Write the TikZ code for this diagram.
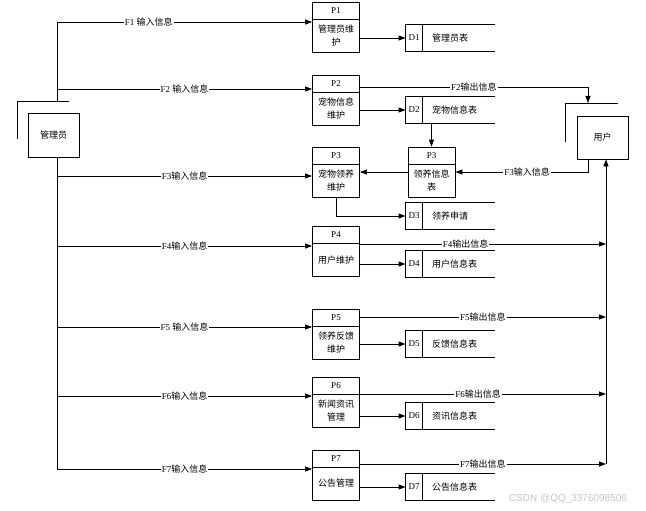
\documentclass[tikz,border=0pt]{standalone}
\usepackage{fontspec}
\setmainfont{Liberation Serif}
\newfontfamily\cjk{Noto Sans CJK SC}
\newfontfamily\wmfont{Liberation Sans}
\usetikzlibrary{arrows.meta, positioning}

\tikzset{
  proc/.style={draw, minimum width=47pt, minimum height=50pt, inner sep=0pt},
  store/.style={minimum width=89pt, minimum height=26pt, inner sep=0pt},
  ent/.style={draw, minimum width=51pt, minimum height=44pt, font=\cjk\fontsize{9}{10}\selectfont},
  pid/.style={inner sep=0pt, font=\fontsize{9}{10}\selectfont},
  ptxt/.style={inner sep=0pt, align=center, font=\cjk\fontsize{9}{13}\selectfont},
  stxt/.style={inner sep=0pt, anchor=west, font=\cjk\fontsize{9}{10}\selectfont},
  lab/.style={fill=white, inner sep=1pt, font=\fontsize{9}{10}\selectfont},
}

\begin{document}
\begin{tikzpicture}[x=1pt, y=-1pt, >={Triangle[length=7pt, width=5pt]}, line width=0.8pt]
    \useasboundingbox (0,0) rectangle (646,511);

    % 外部实体
    \node[ent] (admin) at (53.5,135) {管理员};
    \coordinate (aTL) at (17,101);
    \draw (17,139) -- (aTL) -- (69,101);
    \node[ent, minimum height=43pt] (user) at (602.5,137.5) {用户};
    \coordinate (uTL) at (565,103);
    \draw (565,142) -- (uTL) -- (618,103);

    % 加工
    \foreach \n/\y/\txt in {1/27/管理员维\\护, 2/100/宠物信息\\维护, 3/172/宠物领养\\维护,
        4/251/用户维护, 5/334/领养反馈\\维护, 6/402/新闻资讯\\管理, 7/475/公告管理}{
      \node[proc] (p\n) at (336,\y) {};
      \draw ([yshift=-18pt]p\n.north west) -- ([yshift=-18pt]p\n.north east);
      \node[pid] (p\n-id) at ([yshift=-9pt]p\n.north) {P\n};
      \node[ptxt] (p\n-txt) at ([yshift=-34pt]p\n.north) {\txt};
    }
    \node[proc] (p3b) at (431.5,172) {};
    \draw ([yshift=-18pt]p3b.north west) -- ([yshift=-18pt]p3b.north east);
    \node[pid] (p3b-id) at ([yshift=-9pt]p3b.north) {P3};
    \node[ptxt] (p3b-txt) at ([yshift=-34pt]p3b.north) {领养信息\\表};

    % 数据存储
    \foreach \n/\y/\txt in {1/38/管理员表, 2/110/宠物信息表, 3/216/领养申请, 4/264/用户信息表,
        5/344/反馈信息表, 6/416/资讯信息表, 7/487/公告信息表}{
      \node[store] (d\n) at (450.5,\y) {};
      \draw (d\n.north east) -- (d\n.north west) -- (d\n.south west) -- (d\n.south east);
      \draw ([xshift=17pt]d\n.north west) -- ([xshift=17pt]d\n.south west);
      \node[pid] (d\n-id) at ([xshift=8.5pt]d\n.west) {D\n};
      \node[stxt] (d\n-txt) at ([xshift=26pt]d\n.west) {\txt};
    }

    % 输入
    \foreach \n/\y in {1/22, 2/89, 3/176, 4/246, 5/327, 6/396, 7/469}
      \coordinate (t\n) at (57,\y);
    \draw (t1) -- (t1 |- aTL);
    \draw (t1 |- admin.south) -- (t7);
    \draw[->] (t1) -- (t1 -| p1.west) node[lab, pos=0.36] {F1 {\cjk 输入信息}};
    \draw[->] (t2) -- (t2 -| p2.west) node[lab, midway] {F2 {\cjk 输入信息}};
    \draw[->] (t3) -- (t3 -| p3.west) node[lab, midway] {F3{\cjk 输入信息}};
    \draw[->] (t4) -- (t4 -| p4.west) node[lab, midway] {F4{\cjk 输入信息}};
    \draw[->] (t5) -- (t5 -| p5.west) node[lab, midway] {F5 {\cjk 输入信息}};
    \draw[->] (t6) -- (t6 -| p6.west) node[lab, midway] {F6{\cjk 输入信息}};
    \draw[->] (t7) -- (t7 -| p7.west) node[lab, midway] {F7{\cjk 输入信息}};

    % 写入存储
    \foreach \n in {1,2,4,5,6,7}
      \draw[->] (p\n.east |- d\n.west) -- (d\n.west);
    \draw[->] (p3.south) -- (p3.south |- d3.west) -- (d3.west);
    \draw[->] (p3b |- d2.south) -- (p3b.north);
    \draw[->] (p3b.west) -- (p3.east);

    % 用户
    \coordinate (o2) at (588,87);
    \draw[->] (o2 -| p2.east) -- (o2) node[lab, pos=0.5] {F2{\cjk 输出信息}} -- (o2 |- uTL);
    \coordinate (o3) at (588,172);
    \draw[->] (o3 |- user.south) -- (o3) -- (o3 -| p3b.east) node[lab, pos=0.46] {F3{\cjk 输入信息}};
    \foreach \n/\y in {4/244, 5/317, 6/394, 7/464}
      \coordinate (r\n) at (606,\y);
    \draw[->] (r4 -| p4.east) -- (r4) node[lab, pos=0.43] {F4{\cjk 输出信息}};
    \draw[->] (r5 -| p5.east) -- (r5) node[lab, midway] {F5{\cjk 输出信息}};
    \draw[->] (r6 -| p6.east) -- (r6) node[lab, pos=0.48] {F6{\cjk 输出信息}};
    \draw[->] (r7 -| p7.east) -- (r7) node[lab, midway] {F7{\cjk 输出信息}};
    \draw[->] (r7) -- (r7 |- user.south);

    \node[text=gray!45, font=\wmfont\fontsize{10}{11}\selectfont] (csdn) at (568,499) {CSDN @QQ\_3376098506};
\end{tikzpicture}
\end{document}
